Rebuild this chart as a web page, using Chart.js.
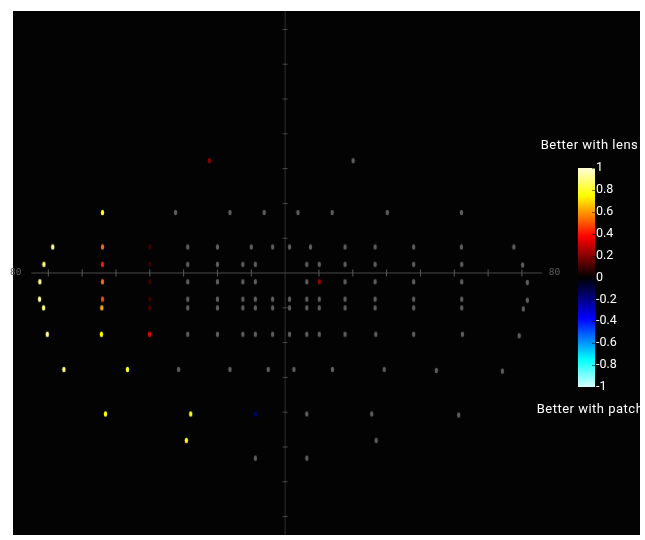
<!DOCTYPE html>
<html><head><meta charset="utf-8">
<script src="https://cdn.jsdelivr.net/npm/chart.js@4"></script>
<style>html,body{margin:0;padding:0;background:#fff;}canvas{display:block;}</style>
</head><body>
<canvas id="c" width="645" height="540"></canvas>
<script>
// Esterman-style binocular field: positions in degrees, effect value (null = not significant, gray)
const pointX = [
  -22.4, 20.1,
  -54.0, -32.4, -16.3, -6.2, 3.8, 13.9, 30.2, 52.1,
  -68.7, -54.0, -40.0, -28.8, -20.0, -10.0, -3.7, 1.3, 7.5, 17.7, 26.6, 38.0, 52.1, 67.6,
  -71.3, -54.0, -40.0, -28.8, -20.0, -12.5, -8.8, 6.4, 10.1, 17.7, 26.6, 38.0, 52.2, 70.2,
  -72.5, -54.0, -40.0, -28.8, -20.0, -12.5, -8.8, 6.4, 10.1, 17.7, 26.6, 38.0, 52.2, 71.6,
  -72.6, -54.0, -40.0, -28.8, -20.0, -12.5, -8.8, -3.7, 1.3, 6.4, 10.1, 17.7, 26.6, 38.0, 52.2, 71.6,
  -71.4, -54.2, -40.1, -28.8, -20.0, -12.5, -8.8, -3.7, 1.3, 6.4, 10.1, 17.7, 26.6, 38.0, 52.2, 70.4,
  -70.3, -54.3, -40.1, -28.8, -20.0, -12.5, -8.8, -3.7, 1.3, 6.4, 10.1, 17.7, 26.8, 38.0, 52.4, 69.2,
  -65.4, -46.6, -31.5, -16.3, -5.0, 2.6, 14.0, 29.3, 44.7, 64.2,
  -53.1, -27.9, -8.8, 6.4, 25.6, 51.3,
  -29.2, 26.9,
  -8.8, 6.4
];
const pointY = [
  32.3, 32.3,
  17.4, 17.4, 17.4, 17.4, 17.4, 17.4, 17.4, 17.4,
  7.5, 7.5, 7.5, 7.5, 7.5, 7.5, 7.5, 7.5, 7.5, 7.5, 7.5, 7.5, 7.5, 7.5,
  2.5, 2.5, 2.5, 2.5, 2.5, 2.5, 2.5, 2.5, 2.5, 2.5, 2.5, 2.5, 2.5, 2.3,
  -2.5, -2.5, -2.5, -2.5, -2.5, -2.5, -2.5, -2.5, -2.5, -2.5, -2.5, -2.5, -2.5, -2.7,
  -7.5, -7.5, -7.5, -7.5, -7.5, -7.5, -7.5, -7.5, -7.5, -7.5, -7.5, -7.5, -7.5, -7.5, -7.5, -7.8,
  -10.0, -10.0, -10.0, -10.0, -10.0, -10.0, -10.0, -10.0, -10.0, -10.0, -10.0, -10.0, -10.0, -10.0, -10.0, -10.3,
  -17.6, -17.6, -17.6, -17.6, -17.6, -17.6, -17.6, -17.6, -17.6, -17.6, -17.6, -17.6, -17.6, -17.6, -17.6, -18.0,
  -27.7, -27.7, -27.7, -27.7, -27.7, -27.7, -27.7, -27.7, -28.0, -28.2,
  -40.5, -40.5, -40.5, -40.5, -40.5, -40.8,
  -48.1, -48.1,
  -53.2, -53.2
];
const N = null;
const pointValue = [
  0.2, N,
  0.76, N, N, N, N, N, N, N,
  0.92, 0.52, 0.09, N, N, N, N, N, N, N, N, N, N, N,
  0.9, 0.4, 0.09, N, N, N, N, N, N, N, N, N, N, N,
  0.92, 0.52, 0.09, N, N, N, N, N, 0.23, N, N, N, N, N,
  0.93, 0.47, 0.09, N, N, N, N, N, N, N, N, N, N, N, N, N,
  0.9, 0.62, 0.1, N, N, N, N, N, N, N, N, N, N, N, N, N,
  0.92, 0.76, 0.34, N, N, N, N, N, N, N, N, N, N, N, N, N,
  0.9, 0.78, N, N, N, N, N, N, N, N,
  0.76, 0.76, -0.16, N, N, N,
  0.77, N,
  N, N
];
const axisTicks = [-70, -60, -50, -40, -30, -20, -10, 10, 20, 30, 40, 50, 60, 70];
const edgeLabels = [-80, 80];
const colorbarTicks = [1, 0.8, 0.6, 0.4, 0.2, 0, -0.2, -0.4, -0.6, -0.8, -1];
const colorbarTitles = ['Better with lens', 'Better with patch'];

function clamp(v){ return Math.max(0, Math.min(1, v)); }
function heat(v){
  const a = Math.abs(v);
  const c1 = clamp(a / 0.375), c2 = clamp((a - 0.375) / 0.375), c3 = clamp((a - 0.75) / 0.25) * 0.85;
  const rgb = v >= 0 ? [c1, c2, c3] : [c3, c2, c1];
  return 'rgb(' + rgb.map(c => Math.round(c * 255)).join(',') + ')';
}
function pointColor(v){ return v === null ? '#5e5e5e' : heat(v); }
function ellipseImage(color){
  const cv = document.createElement('canvas');
  cv.width = 5; cv.height = 7;
  const g = cv.getContext('2d');
  g.fillStyle = color;
  g.beginPath(); g.ellipse(2.5, 3.5, 1.7, 2.7, 0, 0, Math.PI * 2); g.fill();
  return cv;
}
const pointImages = pointValue.map(v => ellipseImage(pointColor(v)));
const data = pointX.map((x, i) => ({x: x, y: pointY[i]}));

const fieldAxes = {
  id: 'fieldAxes',
  beforeDatasetsDraw(chart){
    const {ctx, chartArea: a, scales: {x, y}} = chart;
    ctx.save();
    ctx.fillStyle = '#030303';
    ctx.fillRect(a.left, a.top, a.right - a.left, a.bottom - a.top);
    const x0 = x.getPixelForValue(0), y0 = y.getPixelForValue(0);
    ctx.strokeStyle = '#2f2f2f'; ctx.lineWidth = 1;
    ctx.beginPath(); ctx.moveTo(x0, a.top); ctx.lineTo(x0, a.bottom); ctx.stroke();
    ctx.strokeStyle = '#484848';
    axisTicks.forEach(t => { const py = y.getPixelForValue(t); ctx.beginPath(); ctx.moveTo(x0 - 2.5, py); ctx.lineTo(x0 + 2.5, py); ctx.stroke(); });
    ctx.strokeStyle = '#4a4a4a';
    ctx.beginPath(); ctx.moveTo(x.getPixelForValue(-75), y0); ctx.lineTo(x.getPixelForValue(76), y0); ctx.stroke();
    ctx.strokeStyle = '#5a5a5a';
    axisTicks.forEach(t => { const px = x.getPixelForValue(t); ctx.beginPath(); ctx.moveTo(px, y0 - 3.5); ctx.lineTo(px, y0 + 3.5); ctx.stroke(); });
    ctx.fillStyle = '#5e5e5e'; ctx.font = '9.5px "DejaVu Sans Mono"'; ctx.textAlign = 'center'; ctx.textBaseline = 'middle';
    edgeLabels.forEach(t => ctx.fillText(String(Math.abs(t)), x.getPixelForValue(t * 0.995), y0));
    ctx.restore();
  }
};

const colorbar = {
  id: 'colorbar',
  afterDraw(chart){
    const ctx = chart.ctx;
    const left = 578, width = 17, top = 168, bottom = 387;
    const vy = v => top + (1 - v) / 2 * (bottom - top);
    ctx.save();
    const grad = ctx.createLinearGradient(0, top, 0, bottom);
    for (let i = 0; i <= 100; i++) { const v = 1 - i / 50; grad.addColorStop(i / 100, heat(v)); }
    ctx.fillStyle = grad;
    ctx.fillRect(left, top, width, bottom - top);
    ctx.strokeStyle = 'rgba(0,0,0,0.5)'; ctx.lineWidth = 1;
    colorbarTicks.forEach(t => { const py = Math.round(vy(t)) + 0.5; ctx.beginPath(); ctx.moveTo(left + width - 3, py); ctx.lineTo(left + width, py); ctx.stroke(); });
    ctx.fillStyle = '#ffffff';
    ctx.font = '12.5px Roboto';
    ctx.textAlign = 'left'; ctx.textBaseline = 'middle';
    colorbarTicks.forEach(t => ctx.fillText(String(t), left + width + 1, vy(t)));
    ctx.font = '13px Roboto';
    ctx.letterSpacing = '0.5px';
    ctx.textAlign = 'center';
    ctx.fillText(colorbarTitles[0], 589.5, 146);
    ctx.fillText(colorbarTitles[1], 590, 410);
    ctx.restore();
  }
};

new Chart(document.getElementById('c'), {
  type: 'scatter',
  data: { datasets: [{
    data: data,
    pointStyle: ctx => pointImages[ctx.dataIndex],
    pointRadius: 3,
    backgroundColor: ctx => pointColor(pointValue[ctx.dataIndex])
  }]},
  options: {
    responsive: false,
    animation: false,
    events: [],
    layout: { padding: { left: 13, top: 11, right: 0, bottom: 2 } },
    plugins: { legend: { display: false }, tooltip: { enabled: false } },
    scales: {
      x: { type: 'linear', min: -80.44, max: 104.9, display: false },
      y: { type: 'linear', min: -75.3, max: 75.3, display: false }
    }
  },
  plugins: [fieldAxes, colorbar]
});
</script>
</body></html>
